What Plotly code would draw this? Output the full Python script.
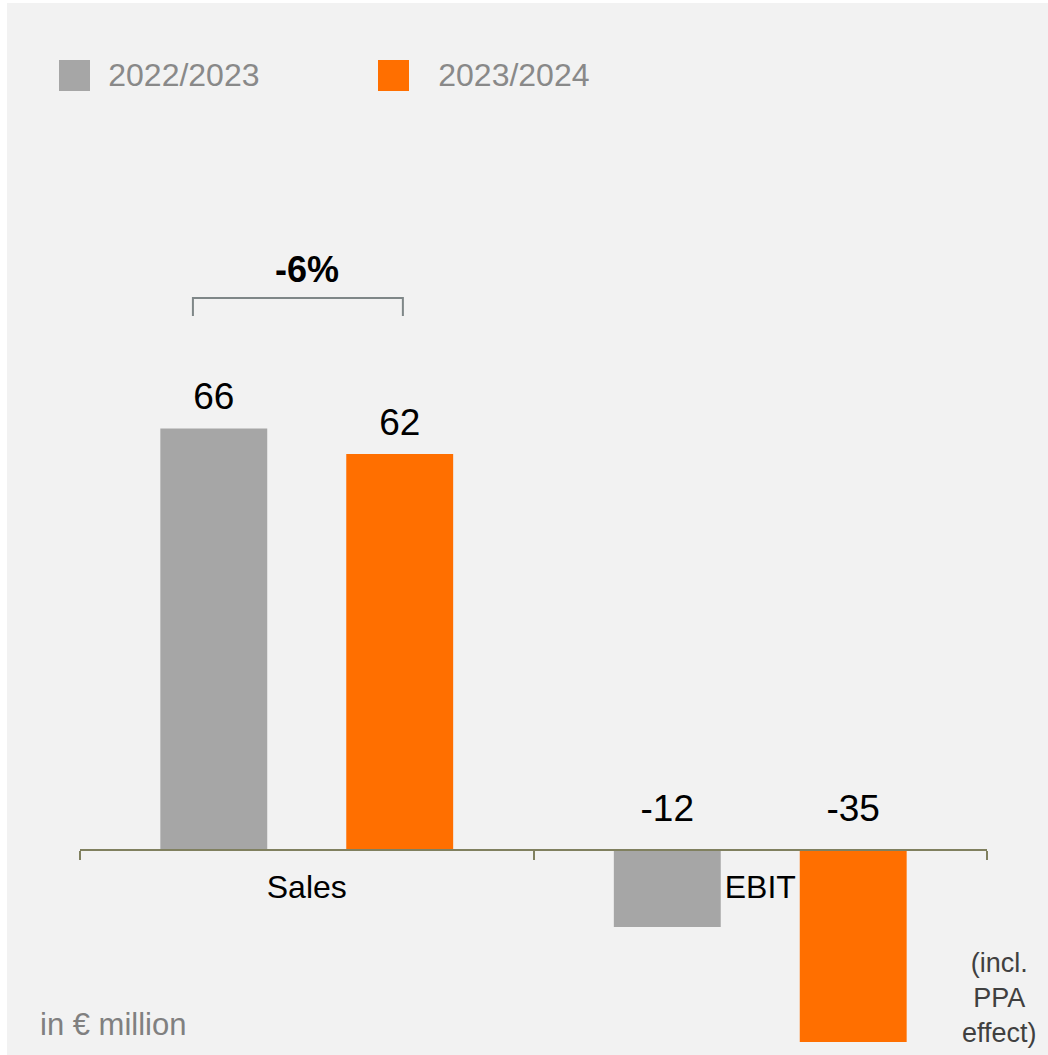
import plotly.graph_objects as go

categories = ["Sales", "EBIT"]
series_names = ["2022/2023", "2023/2024"]
values_2223 = [66, -12]
values_2324 = [62, -35]
colors = ["#A6A6A6", "#FF6F00"]
change_label = "-6%"
unit_label = "in € million"
note_label = "(incl.<br>PPA<br>effect)"

FONT = "Arial, Liberation Sans, sans-serif"
BG = "#F2F2F2"

# geometry (pixels)
W, H = 1048, 1055
ml, mr, mt, mb = 80, 61, 100, 13
PW, PH = W - ml - mr, H - mt - mb
ymin, ymax = -30.0, 117.4
ax_pos = (0 - ymin) / (ymax - ymin)


def px_x(p):
    return (p - ml) / PW


def px_y(p):
    return (H - mb - p) / PH


fig = go.Figure()
for name, vals, col in zip(series_names, [values_2223, values_2324], colors):
    fig.add_trace(go.Bar(
        x=categories, y=vals, name=name, marker=dict(color=col, line=dict(width=0)),
        offsetgroup=name, showlegend=False,
    ))
for name, vals, col in zip(series_names, [values_2223, values_2324], colors):
    fig.add_trace(go.Scatter(
        x=categories, y=[max(v, 0) for v in vals], mode="markers+text",
        text=[str(v) for v in vals], textposition="top center",
        marker=dict(size=[14 if v >= 0 else 30 for v in vals], opacity=0),
        textfont=dict(size=37, color="#000000", family=FONT),
        offsetgroup=name, showlegend=False, hoverinfo="skip",
    ))
# legend entries (text from the legend, square swatches drawn as shapes)
for name, col in zip(series_names, colors):
    fig.add_trace(go.Scatter(
        x=[None], y=[None], mode="markers", name=name,
        marker=dict(symbol="square", size=16, color="rgba(0,0,0,0)"),
    ))

fig.update_layout(
    width=W, height=H,
    margin=dict(l=ml, r=mr, t=mt, b=mb),
    paper_bgcolor="#FFFFFF", plot_bgcolor=BG,
    barmode="group", bargap=0.18, bargroupgap=0.425,
    scattermode="group", scattergap=0.18,
    font=dict(family=FONT, size=32, color="#000000"),
    legend=dict(
        orientation="h", x=-0.0295, y=1.0 + (mt - 74) / PH, xanchor="left", yanchor="middle",
        font=dict(size=32, color="#898989", family=FONT),
        itemwidth=45, entrywidth=270, entrywidthmode="pixels",
        bgcolor="rgba(0,0,0,0)",
    ),
    xaxis=dict(
        type="category", range=[-0.5, 1.5], anchor="free", position=ax_pos,
        showline=True, linecolor="#80805F", linewidth=2,
        ticks="outside", tickson="boundaries", ticklen=9, tickwidth=2, tickcolor="#80805F",
        tickfont=dict(size=32, color="#000000", family=FONT), ticklabelstandoff=8,
        showgrid=False, zeroline=False,
    ),
    yaxis=dict(range=[ymin, ymax], visible=False, showgrid=False, zeroline=False),
)

# grey card background with thin white border
fig.add_shape(type="rect", xref="paper", yref="paper", layer="below",
              x0=px_x(7), x1=px_x(W), y0=px_y(H), y1=px_y(3),
              fillcolor=BG, line=dict(width=0))

# legend swatches
for col, left in zip(colors, [59, 378]):
    fig.add_shape(type="rect", xref="paper", yref="paper",
                  x0=px_x(left), x1=px_x(left + 31), y0=px_y(91), y1=px_y(60),
                  fillcolor=col, line=dict(width=0))

# bracket over Sales bars
fig.add_shape(type="path", xref="x", yref="y",
              path="M -0.251,83.6 L -0.251,86.4 L 0.212,86.4 L 0.212,83.6",
              line=dict(color="#7F8788", width=2))
fig.add_annotation(x=0, y=90.8, xref="x", yref="y", text="<b>" + change_label + "</b>",
                   showarrow=False, font=dict(size=36, color="#000000", family=FONT))

fig.add_annotation(x=px_x(38), y=px_y(1024), xref="paper", yref="paper",
                   xanchor="left", yanchor="middle", text=unit_label, showarrow=False,
                   font=dict(size=31, color="#808080", family=FONT))
fig.add_annotation(x=px_x(1000), y=px_y(998), xref="paper", yref="paper",
                   xanchor="center", yanchor="middle", text=note_label, showarrow=False,
                   font=dict(size=27, color="#404040", family=FONT))

fig.write_html("out.html")
